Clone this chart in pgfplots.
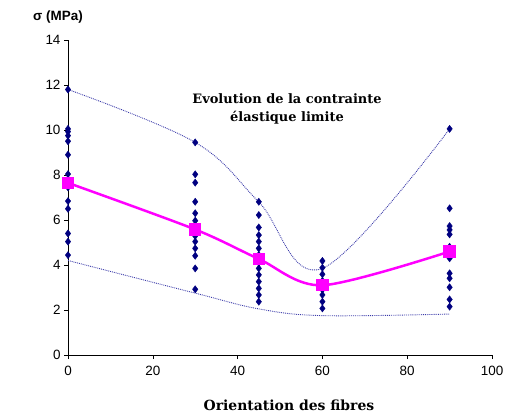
\documentclass[border=0pt]{standalone}
\usepackage{pgfplots}
\pgfplotsset{compat=1.18}
\usepackage{fontspec}
\setmainfont{Liberation Sans}
\newfontfamily\titlefont{DejaVu Serif}
\definecolor{navy}{RGB}{0,0,128}
\definecolor{dotblue}{RGB}{60,60,170}
\definecolor{magpure}{RGB}{255,0,255}
\begin{document}
\begin{tikzpicture}[x=1bp,y=1bp]
\useasboundingbox (0,0) rectangle (521,415);
\begin{axis}[at={(68bp,60bp)}, anchor=origin,
  scale only axis, width=424bp, height=315bp,
  xmin=0, xmax=100, ymin=0, ymax=14,
  axis lines=left, axis line style={-, black, line width=0.8pt},
  xtick={0,20,...,100}, ytick={0,2,...,14},
  tick align=outside, major tick length=4bp,
  tick style={black, line width=0.6pt},
  ticklabel style={font=\fontsize{13.5}{14}\selectfont},
  xticklabel style={yshift=-4bp},
  /pgf/number format/assume math mode=true,
  clip=false]
\addplot[only marks, mark=diamond*, mark size=3.6bp, color=navy] coordinates {
(0,11.8)(0,10.05)(0,9.93)(0,9.75)(0,9.5)(0,8.9)(0,8.04)(0,7.8)(0,7.45)(0,6.84)(0,6.5)(0,5.4)(0,5.04)(0,4.44)
(30,9.45)(30,8.03)(30,7.66)(30,6.81)(30,6.3)(30,5.97)(30,5.6)(30,5.29)(30,5.04)(30,4.74)(30,4.41)(30,3.85)(30,2.92)
(45,6.81)(45,6.22)(45,5.67)(45,5.33)(45,5.04)(45,4.74)(45,4.45)(45,4.1)(45,3.85)(45,3.56)(45,3.26)(45,2.96)(45,2.67)(45,2.37)
(60,4.18)(60,3.88)(60,3.59)(60,3.3)(60,2.9)(60,2.67)(60,2.37)(60,2.07)
(90,10.05)(90,6.52)(90,5.73)(90,5.56)(90,5.36)(90,4.81)(90,4.59)(90,4.3)(90,3.63)(90,3.41)(90,3.01)(90,2.47)(90,2.15)
};
\addplot[dotblue, densely dotted, line width=0.9pt, smooth, tension=0.6] coordinates {
(0,11.8)(30,9.45)(45,6.8)(60,3.85)(90,10.05)};
\addplot[dotblue, densely dotted, line width=0.9pt, smooth, tension=0.6] coordinates {
(0,4.2)(30,2.75)(45,2.05)(60,1.75)(90,1.82)};
\addplot[magpure, line width=2.5pt, smooth, tension=0.5, mark=square*, mark size=5bp, mark options={solid}] coordinates {
(0,7.65)(30,5.58)(45,4.27)(60,3.1)(90,4.6)};
\end{axis}
\node[font=\titlefont\bfseries\fontsize{13}{18}\selectfont, align=center] at (287,306) {Evolution de la contrainte\\élastique limite};
\node[font=\titlefont\bfseries\fontsize{14}{16}\selectfont] at (289,10) {Orientation des fibres};
\node[font=\bfseries\fontsize{13.5}{15}\selectfont] at (58,398) {σ (MPa)};
\end{tikzpicture}
\end{document}
